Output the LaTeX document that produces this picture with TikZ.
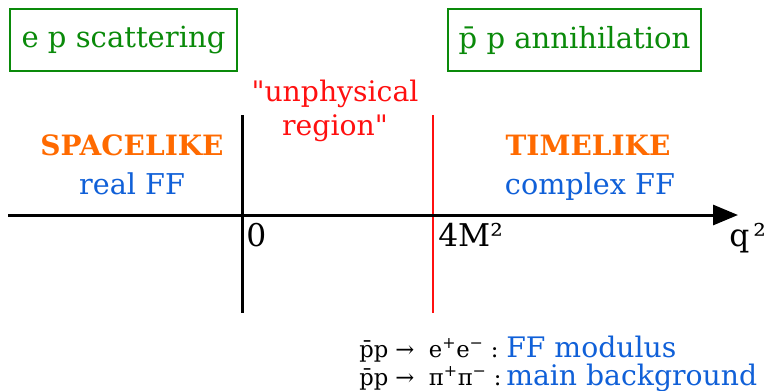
\documentclass[tikz,border=0pt]{standalone}
\usepackage{fontspec}
\setmainfont{DejaVu Serif}
\usepackage{xcolor}
\usepackage{tikz}
\usetikzlibrary{arrows.meta,positioning}
\definecolor{procgreen}{HTML}{0A8A0A}
\definecolor{likeorange}{HTML}{FF6A00}
\definecolor{ffblue}{HTML}{1060D8}
\definecolor{unphysred}{HTML}{FF1010}
\tikzset{
  procbox/.style={draw=procgreen,line width=1.5pt,text=procgreen,minimum height=46.5pt,inner sep=0pt,font=\fontsize{21.8}{26}\selectfont},
  likelbl/.style={text=likeorange,anchor=base,inner sep=0pt,font=\bfseries\fontsize{21}{25}\selectfont},
  fflbl/.style={text=ffblue,anchor=base,inner sep=0pt,font=\fontsize{21.5}{25}\selectfont},
  unphyslbl/.style={text=unphysred,anchor=base,inner sep=0pt,font=\fontsize{21.2}{25}\selectfont},
  axislbl/.style={anchor=base west,inner sep=0pt,font=\fontsize{23.5}{28}\selectfont},
  reacnode/.style={anchor=base west,inner sep=0pt,font=\fontsize{17}{20}\selectfont},
  reacff/.style={reacnode,text=ffblue,font=\fontsize{21.2}{25}\selectfont},
  axisline/.style={-{Triangle[length=18.75pt,width=15pt]},line width=2.25pt},
  zeroline/.style={line width=2.25pt},
  threshline/.style={unphysred,line width=1.1pt},
}

\begin{document}
\begin{tikzpicture}[x=0.75pt,y=-0.75pt]
  \useasboundingbox (0,0) rectangle (767,390);
  \node[procbox,minimum width=170.25pt] (epbox) at (123.5,40) {e p scattering};
  \node[procbox,minimum width=189.75pt] (ppbox) at (574.5,40) {\=p p annihilation};
  \node[unphyslbl] (unphysA) at (335,101) {\textquotedbl unphysical};
  \node[unphyslbl] (unphysB) at (335,135) {region\textquotedbl};
  \node[likelbl] (space) at (132,155) {SPACELIKE};
  \node[fflbl] (realff) at (132,194) {real FF};
  \node[likelbl] (time) at (588,155) {TIMELIKE};
  \node[fflbl] (cplxff) at (590,194) {complex FF};
  \coordinate (axL) at (8,215);
  \coordinate (axR) at (738,215);
  \coordinate (zeroT) at (242,115);
  \coordinate (zeroB) at (242,313);
  \coordinate (threshT) at (433,115);
  \coordinate (threshB) at (433,313);
  \draw[zeroline] (zeroT) -- (zeroB);
  \draw[threshline] (threshT) -- (threshB);
  \draw[axisline] (axL) -- (axR);
  \node[axislbl] (zero) at (246,246) {0};
  \node[axislbl] (fourm) at (438,246) {4M²};
  \node[axislbl] (qsq) at (729,246) {q\kern3pt²};
  \node[reacnode] (reacA) at (359,357) {\=pp → \ e\textsuperscript{+}e\textsuperscript{−} :};
  \node[reacff] (modA) at (506,357) {FF modulus};
  \node[reacnode] (reacB) at (359,385) {\=pp → \ π\textsuperscript{+}π\textsuperscript{−} :};
  \node[reacff] (modB) at (506,385) {main background};
\end{tikzpicture}
\end{document}
